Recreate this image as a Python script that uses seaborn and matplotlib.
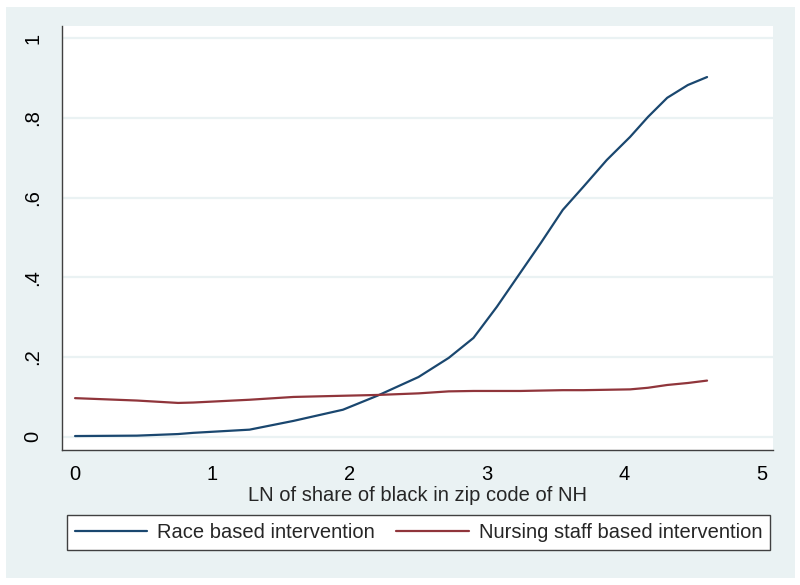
import matplotlib
matplotlib.use("Agg")
import matplotlib.pyplot as plt
import pandas as pd
import seaborn as sns
from matplotlib.patches import Rectangle

# values
x_vals = [0.0, 0.45, 0.75, 0.86, 1.27, 1.59, 1.95, 2.2, 2.5, 2.72, 2.9, 3.07, 3.24,
          3.39, 3.55, 3.7, 3.87, 4.04, 4.17, 4.31, 4.46, 4.6]
race = [0.002, 0.003, 0.007, 0.01, 0.018, 0.04, 0.068, 0.103, 0.15, 0.198, 0.248,
        0.326, 0.411, 0.486, 0.569, 0.627, 0.694, 0.752, 0.802, 0.85, 0.882, 0.902]
nursing = [0.097, 0.091, 0.085, 0.086, 0.093, 0.100, 0.103, 0.105, 0.109, 0.114, 0.115,
           0.115, 0.115, 0.116, 0.117, 0.117, 0.118, 0.119, 0.123, 0.130, 0.135, 0.141]
series_names = ["Race based intervention", "Nursing staff based intervention"]
y_ticks = [0, 0.2, 0.4, 0.6, 0.8, 1.0]
y_labels = ["0", ".2", ".4", ".6", ".8", "1"]
x_ticks = [0, 1, 2, 3, 4, 5]

df = pd.DataFrame({
    "x": x_vals * 2,
    "y": race + nursing,
    "series": [series_names[0]] * len(x_vals) + [series_names[1]] * len(x_vals),
})

sns.set_style("white")
plt.rcParams["font.family"] = ["Liberation Sans", "DejaVu Sans"]

bg = "#eaf2f3"
axis_col = "#404040"
colors = ["#1a476f", "#90353b"]

fig = plt.figure(figsize=(8, 5.85), dpi=100, facecolor="white")
fig.patches.append(Rectangle((6 / 800, 7 / 585), 789 / 800, 571 / 585,
                             transform=fig.transFigure, facecolor=bg,
                             edgecolor="none", zorder=-10))
ax = fig.add_axes([62 / 800, 1 - 450 / 585, 711 / 800, 424 / 585])
ax.set_facecolor("white")

sns.lineplot(data=df, x="x", y="y", hue="series", hue_order=series_names,
             palette=colors, linewidth=1.6, ax=ax, legend=False)

ax.set_xlim(-0.095, 5.08)
ax.set_ylim(-0.033, 1.03)
ax.set_yticks(y_ticks)
ax.set_yticklabels(y_labels, rotation=90, va="center")
ax.set_xticks(x_ticks)
ax.yaxis.grid(True, color=bg, linewidth=1.6)
ax.set_axisbelow(True)
for side in ["top", "right"]:
    ax.spines[side].set_visible(False)
for side in ["left", "bottom"]:
    ax.spines[side].set_color(axis_col)
    ax.spines[side].set_linewidth(1.0)
ax.tick_params(axis="both", direction="out", length=6, width=1, color=axis_col,
               labelsize=14.5, labelcolor="black", pad=5)
ax.tick_params(axis="y", pad=8)
ax.set_xlabel("LN of share of black in zip code of NH", fontsize=14.5, labelpad=1)
ax.set_ylabel("")

handles = [plt.Line2D([], [], color=c, linewidth=1.6) for c in colors]
leg = fig.legend(handles, series_names, loc="center", ncol=2,
                 bbox_to_anchor=(418.5 / 800, 1 - 532.5 / 585),
                 fontsize=14.5, handlelength=3.6, handletextpad=0.5,
                 frameon=True, fancybox=False, borderaxespad=0, borderpad=0.4,
                 columnspacing=1.05)
leg.get_frame().set_edgecolor(axis_col)
leg.get_frame().set_linewidth(1.0)
leg.get_frame().set_facecolor("white")
leg.get_frame().set_alpha(1)

fig.savefig("out.png", dpi=100, facecolor="white")
